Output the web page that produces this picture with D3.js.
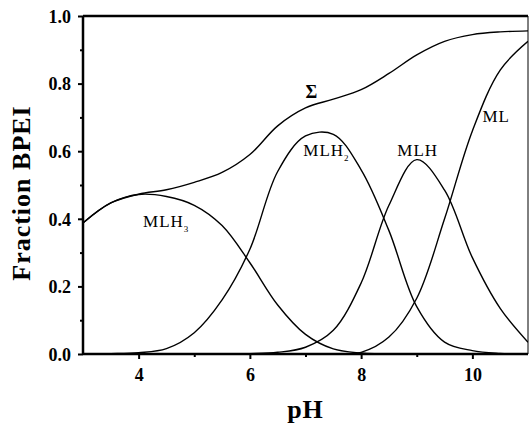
<!DOCTYPE html>
<html>
<head>
<meta charset="utf-8">
<script src="https://cdn.jsdelivr.net/npm/d3@7"></script>
<style>
  body { margin: 0; background: #fff; }
  svg { display: block; }
  .tick-label { font-family: "Liberation Serif", "Times New Roman", serif; font-weight: bold; font-size: 18px; }
  .axis-title { font-family: "Liberation Serif", "Times New Roman", serif; font-weight: bold; font-size: 26px; letter-spacing: 1px; }
  .species { font-family: "Liberation Serif", "Times New Roman", serif; font-size: 17px; letter-spacing: 1px; }
</style>
</head>
<body>
<div id="chart"></div>
<script>
// values, every 0.5 pH unit
var pH     = [3, 3.5, 4, 4.5, 5, 5.5, 6, 6.5, 7, 7.5, 8, 8.5, 9, 9.5, 10, 10.5, 11];
var mlh3   = [0.388, 0.447, 0.472, 0.466, 0.44, 0.38, 0.27, 0.145, 0.058, 0.015, 0.003, 0, 0, 0, 0, 0, 0];
var mlh2   = [0, 0.001, 0.004, 0.016, 0.063, 0.16, 0.31, 0.54, 0.645, 0.65, 0.545, 0.365, 0.14, 0.035, 0.01, 0.002, 0];
var mlh    = [0, 0, 0, 0, 0, 0, 0.001, 0.005, 0.02, 0.07, 0.21, 0.44, 0.575, 0.485, 0.285, 0.135, 0.035];
var ml     = [0, 0, 0, 0, 0, 0, 0, 0, 0, 0, 0.005, 0.05, 0.165, 0.4, 0.66, 0.84, 0.925];
var total  = [0.388, 0.447, 0.473, 0.486, 0.508, 0.537, 0.59, 0.675, 0.728, 0.754, 0.782, 0.83, 0.885, 0.925, 0.945, 0.953, 0.956];

var xMajor = [4, 6, 8, 10];
var xMinor = [5, 7, 9];
var yMajor = [0, 0.2, 0.4, 0.6, 0.8, 1.0];
var yMinor = [0.1, 0.3, 0.5, 0.7, 0.9];

var margin = { top: 16, right: 1, bottom: 71, left: 83 },
    width = 529 - margin.left - margin.right,
    height = 425 - margin.top - margin.bottom;

var svg = d3.select("#chart")
  .append("svg")
  .attr("width", 529)
  .attr("height", 425)
  .append("g")
  .attr("transform", "translate(" + margin.left + "," + margin.top + ")");

var xScale = d3.scaleLinear().domain([3, 11]).range([0, width]);
var yScale = d3.scaleLinear().domain([0, 1]).range([height, 0]);

svg.append("clipPath").attr("id", "clip")
  .append("rect").attr("x", 0).attr("y", -2).attr("width", width).attr("height", height + 1);

// curves
var line = d3.line()
  .x(function(d) { return xScale(d[0]); })
  .y(function(d) { return yScale(d[1]); })
  .curve(d3.curveCatmullRom.alpha(0.5));

[mlh3, mlh2, mlh, ml, total].forEach(function(series) {
  svg.append("path")
    .attr("clip-path", "url(#clip)")
    .attr("d", line(pH.map(function(p, i) { return [p, series[i]]; })))
    .attr("fill", "none")
    .attr("stroke", "#000")
    .attr("stroke-width", 1.4);
});

// axes
var xAxis = d3.axisBottom(xScale).tickValues(xMajor).tickSize(5).tickFormat(d3.format("d"));
var xAxisMinor = d3.axisBottom(xScale).tickValues(xMinor).tickSize(3).tickFormat("");
var yAxis = d3.axisLeft(yScale).tickValues(yMajor).tickSize(5).tickFormat(d3.format(".1f"));
var yAxisMinor = d3.axisLeft(yScale).tickValues(yMinor).tickSize(3).tickFormat("");

function styleAxis(g) {
  g.select(".domain").remove();
  g.selectAll(".tick line").attr("stroke", "#000").attr("stroke-width", 2);
  g.selectAll(".tick text").attr("class", "tick-label").attr("fill", "#000");
}

svg.append("g").attr("transform", "translate(0," + height + ")").call(xAxis).call(styleAxis)
  .selectAll(".tick text").attr("dy", "0.95em").attr("y", 10);
svg.append("g").attr("transform", "translate(0," + height + ")").call(xAxisMinor).call(styleAxis);
svg.append("g").call(yAxis).call(styleAxis)
  .selectAll(".tick text").attr("x", -12).attr("dy", "0.35em");
svg.append("g").call(yAxisMinor).call(styleAxis);

// frame
svg.append("line").attr("x1", 0).attr("x2", width).attr("y1", height).attr("y2", height)
  .attr("stroke", "#000").attr("stroke-width", 2.5);
svg.append("line").attr("x1", 0).attr("x2", 0).attr("y1", 0).attr("y2", height)
  .attr("stroke", "#000").attr("stroke-width", 2.5);
svg.append("line").attr("x1", 0).attr("x2", width).attr("y1", 0).attr("y2", 0)
  .attr("stroke", "#000").attr("stroke-width", 2.5);
svg.append("line").attr("x1", width).attr("x2", width).attr("y1", 0).attr("y2", height)
  .attr("stroke", "#000").attr("stroke-width", 1);

// axis titles
svg.append("text")
  .attr("class", "axis-title")
  .attr("text-anchor", "middle")
  .attr("x", width / 2)
  .attr("y", height + 64)
  .text("pH");

svg.append("text")
  .attr("class", "axis-title")
  .attr("text-anchor", "middle")
  .attr("transform", "translate(-53," + (height / 2 + 8) + ") rotate(-90)")
  .text("Fraction BPEI");

// species labels
function speciesLabel(name, sub, pHx, fy) {
  var t = svg.append("text")
    .attr("class", "species")
    .attr("x", xScale(pHx))
    .attr("y", yScale(fy));
  t.append("tspan").text(name);
  if (sub) {
    t.append("tspan").attr("dy", 5).attr("font-size", "9px").text(sub);
  }
}
speciesLabel("MLH", "3", 4.08, 0.376);
speciesLabel("MLH", "2", 6.96, 0.586);
speciesLabel("MLH", "", 8.65, 0.586);
speciesLabel("ML", "", 10.18, 0.685);

svg.append("text")
  .attr("x", xScale(7.0))
  .attr("y", yScale(0.757))
  .attr("font-family", "Liberation Serif, serif")
  .attr("font-weight", "bold")
  .attr("font-size", "18px")
  .text("Σ");
</script>
</body>
</html>
